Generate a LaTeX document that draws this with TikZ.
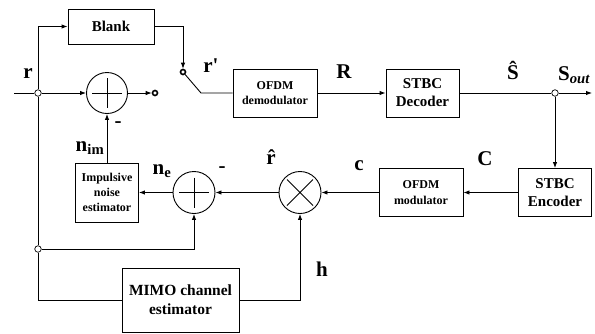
\documentclass[tikz,border=0pt]{standalone}
\usepackage{fontspec}
\setmainfont{Liberation Serif}
\usetikzlibrary{arrows.meta}
\begin{document}
\begin{tikzpicture}[x=1pt,y=-1pt,
  line width=0.9pt,
  box/.style={draw, rectangle, inner sep=0pt, align=center, font=\bfseries\fontsize{15}{18}\selectfont},
  smallbox/.style={box, font=\bfseries\fontsize{12}{15.5}\selectfont},
  opcirc/.style={draw, circle, minimum size=41pt, inner sep=0pt},
  junc/.style={draw, circle, fill=white, minimum size=6.5pt, inner sep=0pt, line width=0.7pt},
  term/.style={draw, circle, fill=white, minimum size=5pt, inner sep=0pt, line width=1.6pt},
  lbl/.style={font=\bfseries\fontsize{21}{25}\selectfont, inner sep=0pt},
  arr/.style={-{Latex[length=6pt,width=4.5pt]}}
]
\useasboundingbox (0,0) rectangle (595,333);

% boxes
\node[box, minimum width=86pt, minimum height=35pt] (blank) at (111,26.5) {Blank};
\node[smallbox, minimum width=84pt, minimum height=48pt] (demod) at (275,93) {OFDM\\demodulator};
\node[box, minimum width=73pt, minimum height=48pt] (dec) at (422.5,93) {STBC\\Decoder};
\node[box, minimum width=73pt, minimum height=48pt] (enc) at (555,192.5) {STBC\\Encoder};
\node[smallbox, minimum width=84pt, minimum height=48pt] (mod) at (421,192.5) {OFDM\\modulator};
\node[smallbox, minimum width=63pt, minimum height=59pt, font=\bfseries\fontsize{12}{15}\selectfont] (imp) at (107,192.5) {Impulsive\\noise\\estimator};
\node[box, minimum width=117pt, minimum height=64pt, font=\bfseries\fontsize{15.5}{19}\selectfont] (mimo) at (180.5,300) {MIMO channel\\estimator};

% operators
\node[opcirc] (sum1) at (107,93) {};
\draw (sum1.center) +(-15,0) -- +(15,0) +(0,-15) -- +(0,15);
\node[opcirc, minimum size=42pt] (sum2) at (194,192.5) {};
\draw (sum2.center) +(-15,0) -- +(15,0) +(0,-15) -- +(0,15);
\node[opcirc, minimum size=42pt] (mult) at (300,192.5) {};
\draw (mult.center) +(-13,-13) -- +(13,13) +(-13,13) -- +(13,-13);

% free ends
\coordinate (in) at (14,93);
\coordinate (swend) at (201,93);
\coordinate (outend) at (592,93);

% junctions and terminals
\node[junc] (j1) at (38,93) {};
\node[junc] (j2) at (38,249) {};
\node[junc] (j3) at (555,93) {};
\node[term] (sw) at (183,72) {};
\node[term] (out1) at (155,93) {};

% connectors
\draw (in) -- (j1.west);
\draw[arr] (j1.east) -- (sum1.west);
\draw[arr] (j1.north) |- (blank.west);
\draw[arr] (blank.east) -| (sw.north);
\draw (sw) -- (swend) -- (demod.west);
\draw[arr] (sum1.east) -- (out1.west);
\draw[arr] (demod.east) -- (dec.west);
\draw (dec.east) -- (j3.west);
\draw[arr] (j3.east) -- (outend);
\draw[arr] (j3.south) -- (enc.north);
\draw[arr] (enc.west) -- (mod.east);
\draw[arr] (mod.west) -- (mult.east);
\draw[arr] (mult.west) -- (sum2.east);
\draw[arr] (sum2.west) -- (imp.east);
\draw[arr] (imp.north) -- (sum1.south);
\draw (j1.south) -- (j2.north);
\draw[arr] (j2.east) -| (sum2.south);
\draw (j2.south) |- (mimo.west);
\draw[arr] (mimo.east) -| (mult.south);

% labels
\node[lbl] (lr) at (28,74) {r};
\node[lbl] (lrp) at (211,66) {r\textquotesingle};
\node[lbl] (lR) at (344,72) {R};
\node[lbl] (lS) at (513,70) {\^{S}};
\node[lbl] (lSout) at (574,75) {S\textsubscript{\itshape out}};
\node[lbl] (lC) at (485,159) {C};
\node[lbl] (lc) at (359,166) {c};
\node[lbl] (lrh) at (271,157) {\^{r}};
\node[lbl] (lne) at (162,171) {n\textsubscript{e}};
\node[lbl] (lm2) at (222,170) {-};
\node[lbl] (lnim) at (90,148) {n\textsubscript{im}};
\node[lbl] (lm1) at (118,125) {-};
\node[lbl] (lh) at (322,269) {h};
\end{tikzpicture}
\end{document}
